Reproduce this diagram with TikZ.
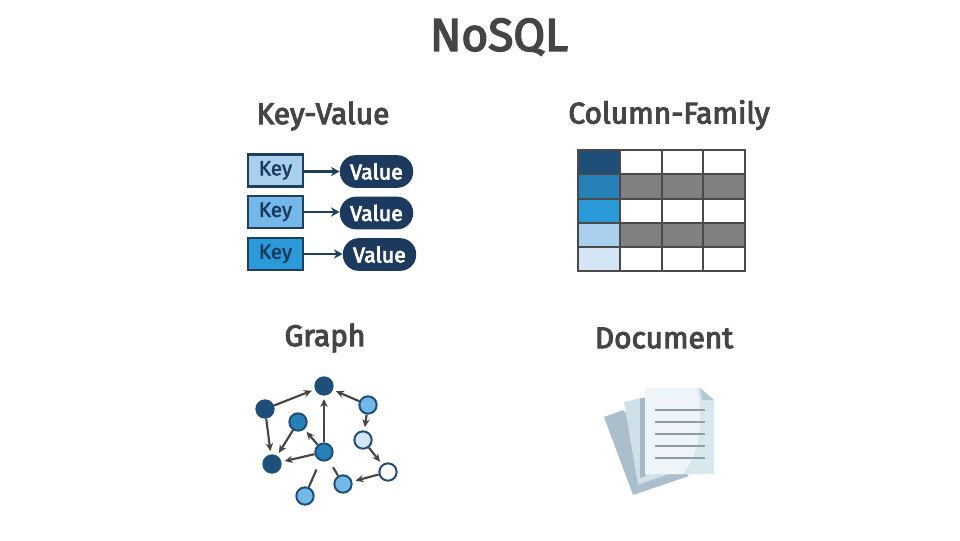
\documentclass[tikz,border=0pt]{standalone}
\usepackage{fontspec}
\setmainfont{Fira Sans}
\newfontface\semib[FakeBold=3.5]{Fira Sans}
\newfontface\medw[FakeBold=2]{Fira Sans}
\usetikzlibrary{arrows.meta}
\definecolor{ink}{HTML}{454545}
\definecolor{navy}{HTML}{1B3A5E}
\definecolor{edgec}{HTML}{1F3F5C}
\definecolor{dk}{HTML}{1F4E79}
\definecolor{md}{HTML}{2681B8}
\definecolor{br}{HTML}{2A9BD8}
\definecolor{lt}{HTML}{A9CFEF}
\definecolor{sk}{HTML}{74B8EA}
\definecolor{pl}{HTML}{D4E6F5}
\definecolor{gridc}{HTML}{4A4A4A}
\definecolor{grayc}{HTML}{808080}
\definecolor{docback}{HTML}{AABECC}
\definecolor{docmid}{HTML}{D0E0E8}
\definecolor{docstrip}{HTML}{A5BAC8}
\definecolor{docright}{HTML}{D8E7EE}
\definecolor{docfront}{HTML}{EEF4F7}
\definecolor{docfold}{HTML}{B4C8D4}
\definecolor{docrule}{HTML}{8CA0AA}
\tikzset{
  x=0.75pt,y=-0.75pt,
  heading/.style={font=\fontsize{22.4}{28}\semib,text=ink,inner sep=0pt},
  keybox/.style={draw=edgec,line width=1.8pt,minimum width=41pt,minimum height=24pt,inner sep=0pt,text=navy,font=\fontsize{15.5}{18}\medw},
  valpill/.style={fill=navy,rounded corners=12pt,minimum width=55pt,minimum height=24.5pt,inner sep=0pt,text=white,font=\fontsize{16}{18}\semib},
  kvarrow/.style={draw=edgec,line width=1.9pt,-{Stealth[length=6.5pt,width=7pt]}},
  cellw/.style={draw=gridc,line width=1.9pt,fill=white},
  cellg/.style={draw=gridc,line width=1.9pt,fill=grayc},
  gnode/.style={circle,draw=#1,line width=1.5pt,minimum size=13pt,inner sep=0pt},
  gedge/.style={draw=ink,line width=1.6pt,-{Stealth[length=6pt,width=5.5pt]},shorten >=2.5pt,shorten <=0pt},
  gline/.style={draw=ink,line width=1.6pt},
  docrulestyle/.style={draw=docrule,line width=2.2pt}
}
\begin{document}
\begin{tikzpicture}
\useasboundingbox (0,0) rectangle (960,540);
\fill[white] (0,0) rectangle (960,540);
\node[heading,font=\fontsize{34.5}{40}\semib] (title) at (499,37) {NoSQL};
\node[heading] (hkv) at (323,116) {Key-Value};
\node[heading] (hcf) at (669,115) {Column-Family};
\node[heading] (hgr) at (325,338) {Graph};
\node[heading] (hdoc) at (664,338) {Document};
% key-value
\node[keybox,fill=lt] (k1) at (275.5,170.5) {Key};
\node[keybox,fill=sk] (k2) at (275.5,212) {Key};
\node[keybox,fill=br] (k3) at (275.5,254) {Key};
\node[valpill] (v1) at (376.5,171.5) {Value};
\node[valpill] (v2) at (376.5,213) {Value};
\node[valpill] (v3) at (379.5,254.5) {Value};
\draw[kvarrow] (k1.east |- v1) -- (v1.west);
\draw[kvarrow] (k2) -- (v2.west |- k2);
\draw[kvarrow] (k3) -- (v3.west |- k3);
% column family
\foreach \yt/\yb/\c/\o in {150/174/dk/cellw,174/199/md/cellg,199/223/br/cellw,223/247/lt/cellg,247/271/pl/cellw}{
  \path[\o] (620,\yt) rectangle (662,\yb);
  \path[\o] (662,\yt) rectangle (703,\yb);
  \path[\o] (703,\yt) rectangle (745,\yb);
  \path[draw=gridc,line width=1.9pt,fill=\c] (578,\yt) rectangle (620,\yb);
}
% graph
\node[gnode=dk,fill=dk] (a) at (324,386) {};
\node[gnode=dk,fill=dk] (b) at (265,409) {};
\node[gnode=dk,fill=md] (c) at (298,422) {};
\node[gnode=dk,fill=dk] (d) at (272,464) {};
\node[gnode=dk,fill=md] (e) at (324,452) {};
\node[gnode=dk,fill=sk] (f) at (368,405) {};
\node[gnode=dk,fill=pl] (g) at (363,440) {};
\node[gnode=dk,fill=white] (h) at (388,472) {};
\node[gnode=dk,fill=sk] (i) at (343,484) {};
\node[gnode=dk,fill=sk] (j) at (305,496) {};
\draw[gedge] (b) -- (a);
\draw[gedge] (b) -- (d);
\draw[gedge] (c) -- (d);
\draw[gedge] (e) -- (a);
\draw[gedge] (e) -- (c);
\draw[gedge] (e) -- (d);
\draw[gedge] (f) -- (a);
\draw[gedge] (f) -- (g);
\draw[gedge] (g) -- (h);
\draw[gedge] (h) -- (i);
\draw[gline,shorten <=7pt] (e) -- (j);
\draw[gline,shorten <=6pt] (e) -- (i);
% document
\fill[docback] (604,417) -- (623,410) -- (689,476) -- (633,495) -- cycle;
\fill[docmid] (624,402) -- (645,397) -- (680,470) -- (638,485) -- cycle;
\fill[docstrip] (640,398) -- (646,398) -- (646,476) -- (640,478) -- cycle;
\fill[docright] (645,388) -- (700,388) -- (714,400) -- (714,474) -- (645,474) -- cycle;
\fill[docfront] (645,388) -- (697,388) .. controls (703,415) and (702,450) .. (683,474) -- (645,474) -- cycle;
\fill[docfold] (700,388) -- (714,400) -- (702,400) -- cycle;
\foreach \yy in {410,422,434,446,458}{
  \draw[docrulestyle] (655,\yy) -- (705,\yy);
}
\end{tikzpicture}
\end{document}
